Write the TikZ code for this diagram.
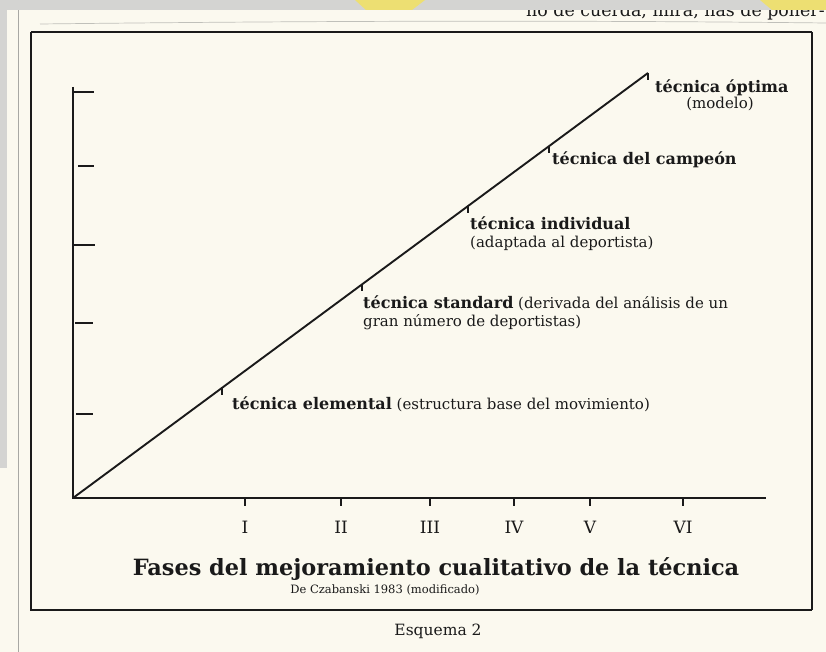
\documentclass[tikz,border=0pt]{standalone}
\usepackage{fontspec}
\setmainfont{DejaVu Serif}
\definecolor{paper}{HTML}{FBF9EF}
\definecolor{band}{HTML}{D4D4D2}
\definecolor{hilite}{HTML}{F4E25A}
\definecolor{ink}{HTML}{1A1A1A}
\definecolor{rule}{HTML}{A8A8A4}
\tikzset{
  lbl/.style={anchor=west, inner sep=0pt, text=ink, font=\fontsize{16}{18}\selectfont\bfseries},
  sub/.style={anchor=west, inner sep=0pt, text=ink, font=\fontsize{15}{17}\selectfont},
  roman/.style={inner sep=0pt, text=ink, font=\fontsize{17}{19}\selectfont},
  axisline/.style={draw=ink, line width=2pt},
  tickmark/.style={draw=ink, line width=1.6pt},
  framebox/.style={draw=ink, line width=2.4pt}
}
\begin{document}
\begin{tikzpicture}[x=1pt,y=-1pt]
\useasboundingbox (0,0) rectangle (826,652);
% page
\fill[paper] (0,0) rectangle (826,652);
\draw[rule, line width=0.8pt] (18,10) -- (18,652);
\draw[rule, line width=0.7pt, opacity=0.7] (40,24) .. controls (300,21) and (560,20) .. (826,23);
% top snippet of running text
\node[anchor=base west, inner sep=0pt, text=ink, font=\fontsize{17.4}{19}\selectfont] (snip) at (526,17) {no de cuerda, mira, has de poner-};
% scanner bands
\fill[band] (0,0) rectangle (826,10);
\fill[band] (0,10) rectangle (7,468);
\fill[hilite, opacity=0.8] (355,0) -- (425,0) -- (412,10) -- (366,10) -- cycle;
\fill[hilite, opacity=0.8] (760,0) -- (826,0) -- (826,10) -- (772,10) -- cycle;

% frame
\draw[framebox] (31,32) -- (812,32);
\draw[framebox] (31,32) -- (31,610) -- (812,610);
\draw[draw=ink, line width=1.6pt] (812,32) -- (812,610);

% axes
\coordinate (O) at (73,498);
\coordinate (Ytop) at (73,87);
\coordinate (Xend) at (766,498);
\draw[axisline] (Ytop) -- (O) -- (Xend);

% vertical axis ticks
\draw[tickmark] (73,92) -- (94,92);
\draw[tickmark] (78,166) -- (94,166);
\draw[tickmark] (73,245) -- (95,245);
\draw[tickmark] (75,323) -- (93,323);
\draw[tickmark] (76,414) -- (93,414);

% diagonal
\coordinate (T) at (648,73);
\draw[draw=ink, line width=1.9pt] (O) -- (T);
\coordinate (d1) at (222,387.9);
\coordinate (d2) at (362,284.4);
\coordinate (d3) at (468,206.1);
\coordinate (d4) at (549,146.2);
\foreach \p in {d1,d2,d3,d4,T} \draw[tickmark, line width=1.3pt] (\p) -- ++(0,7);

% labels
\node[lbl] (opt) at (655,88) {técnica óptima};
\node[sub, anchor=center] (mod) at (720,104) {(modelo)};
\node[lbl] (camp) at (552,160) {técnica del campeón};
\node[lbl] (indiv) at (470,223) {técnica individual};
\node[sub] (adap) at (470,243) {(adaptada al deportista)};
\node[sub] (std) at (363,303) {{\bfseries\fontsize{16}{18}\selectfont técnica standard} (derivada del análisis de un};
\node[sub] (std2) at (363,322) {gran número de deportistas)};
\node[sub] (elem) at (232,404) {{\bfseries\fontsize{16}{18}\selectfont técnica elemental} (estructura base del movimiento)};

% x-axis ticks and numerals
\foreach \x/\r/\n in {245/I/n1, 341/II/n2, 430/III/n3, 514/IV/n4, 590/V/n5, 683/VI/n6} {
  \draw[tickmark, line width=1.4pt] (\x,498) -- (\x,506);
  \node[roman] (\n) at (\x,527) {\r};
}

% titles
\node[inner sep=0pt, text=ink, font=\fontsize{22.4}{25}\selectfont\bfseries] (title) at (436,569) {Fases del mejoramiento cualitativo de la técnica};
\node[inner sep=0pt, text=ink, font=\fontsize{11.5}{13}\selectfont] (cite) at (385,590) {De Czabanski 1983 (modificado)};
\node[inner sep=0pt, text=ink, font=\fontsize{15.5}{18}\selectfont] (esq) at (438,631) {Esquema 2};
\end{tikzpicture}
\end{document}
